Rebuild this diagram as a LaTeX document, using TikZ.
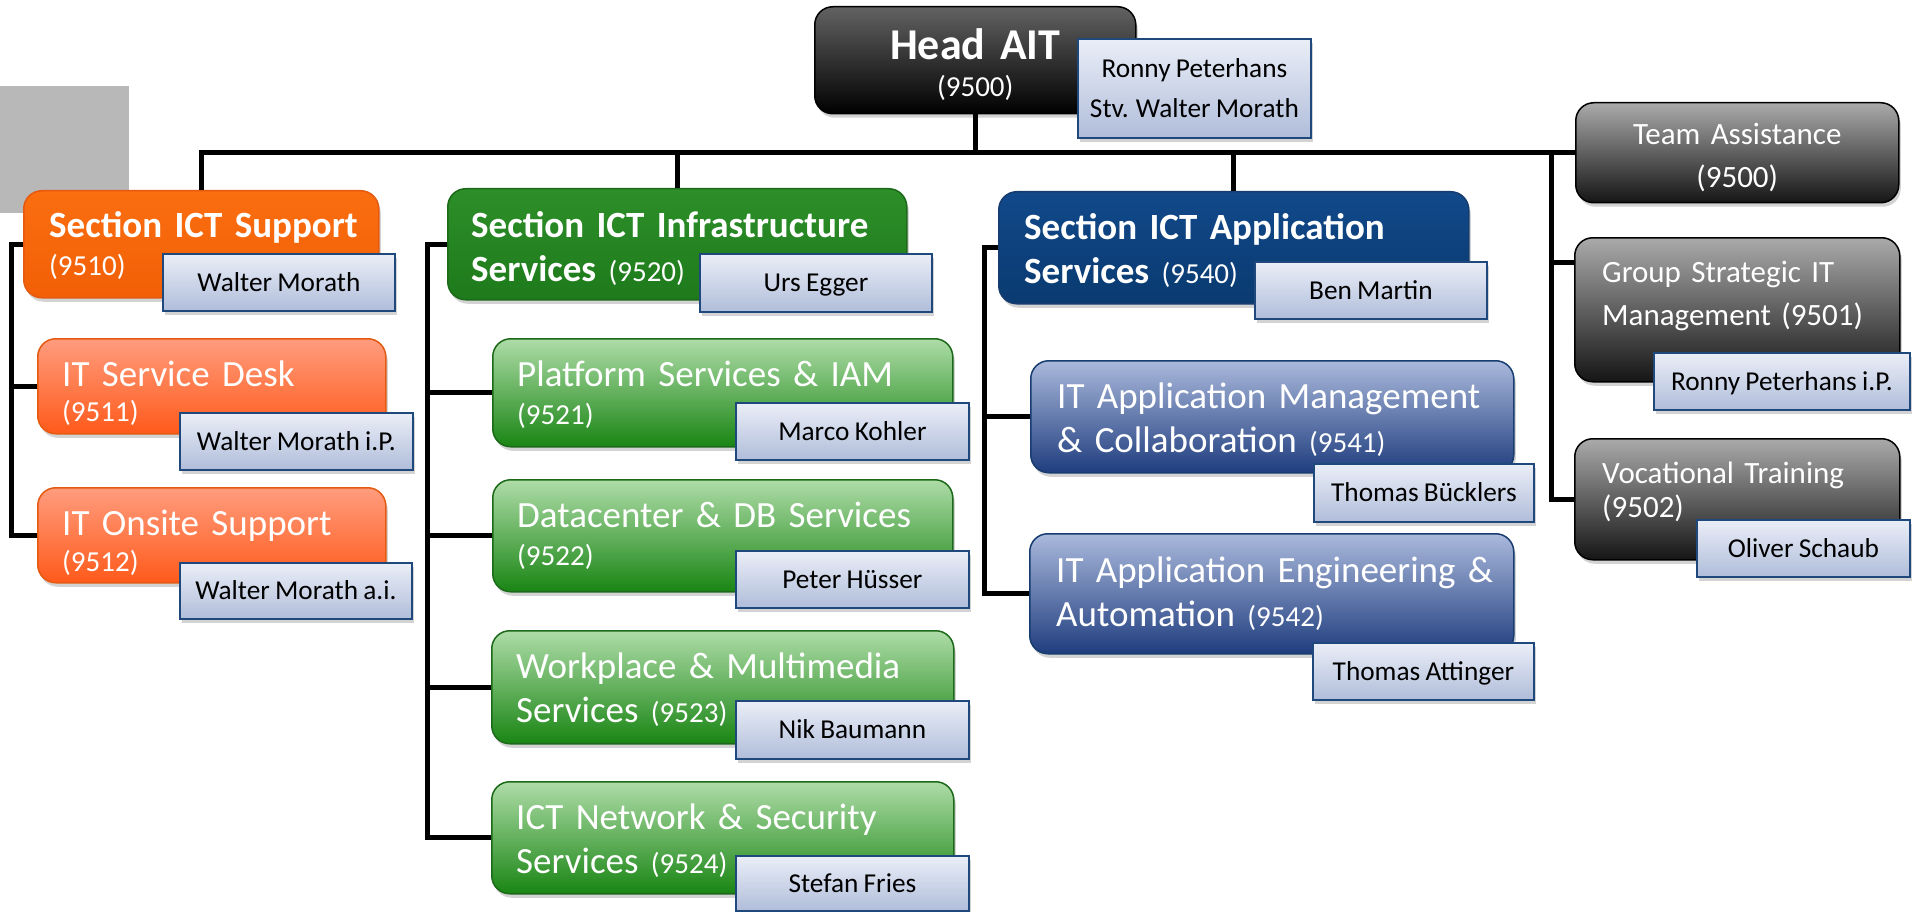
\documentclass[tikz,border=0pt]{standalone}
\usepackage{fontspec}
\setmainfont{Carlito}[WordSpace=0.85]
\usepackage{xcolor}
\usepackage{tikz}
\usetikzlibrary{positioning, calc, shadows}

\definecolor{orgSecTop}{HTML}{FA6E10}
\definecolor{orgSecBot}{HTML}{F25F06}
\definecolor{orgLine}{HTML}{E45A10}
\definecolor{orgTop}{HTML}{FF9C7E}
\definecolor{orgBot}{HTML}{FF5A1A}
\definecolor{grnSecTop}{HTML}{2D8F29}
\definecolor{grnSecBot}{HTML}{1E7A1B}
\definecolor{grnLine}{HTML}{1C6A19}
\definecolor{grnTop}{HTML}{AEDCA8}
\definecolor{grnBot}{HTML}{198513}
\definecolor{bluSecTop}{HTML}{11498A}
\definecolor{bluSecBot}{HTML}{0A3A70}
\definecolor{bluLine}{HTML}{163C70}
\definecolor{bluTop}{HTML}{AAB9DC}
\definecolor{bluBot}{HTML}{1F3D7E}
\definecolor{grayTop}{HTML}{AAAAAA}
\definecolor{grayBot}{HTML}{151515}
\definecolor{headTop}{HTML}{626262}
\definecolor{nameTop}{HTML}{EAEEF7}
\definecolor{nameBot}{HTML}{B0BDDA}
\definecolor{nameLine}{HTML}{1F497D}
\definecolor{patchGray}{HTML}{B8B8B8}

\newcommand{\unitfont}{\fontsize{37}{44}\selectfont}
\newcommand{\codefont}{\fontsize{29}{35}\selectfont}
\newcommand{\namefont}{\fontsize{27.3}{40}\selectfont}
\newcommand{\grayfont}{\fontsize{31}{43}\selectfont}
\newcommand{\headfont}{\fontsize{44}{50}\selectfont}

\begin{document}
\begin{tikzpicture}[x=1pt, y=-1pt,
        link/.style={line width=5pt},
        wh/.style 2 args={minimum width=#1pt, minimum height=#2pt},
        unit/.style={draw, line width=1.5pt, rounded corners=18pt, anchor=north west,
            inner sep=0pt, drop shadow={shadow xshift=2pt, shadow yshift=-4pt, opacity=.35}},
        headbox/.style={unit, draw=black, top color=headTop, middle color=black, bottom color=black},
        graybox/.style={unit, draw=black, top color=grayTop, bottom color=grayBot},
        orgsec/.style={unit, draw=orgLine, top color=orgSecTop, bottom color=orgSecBot},
        orgsub/.style={unit, draw=orgLine, top color=orgTop, bottom color=orgBot},
        grnsec/.style={unit, draw=grnLine, top color=grnSecTop, bottom color=grnSecBot},
        grnsub/.style={unit, draw=grnLine, top color=grnTop, bottom color=grnBot},
        blusec/.style={unit, draw=bluLine, top color=bluSecTop, bottom color=bluSecBot},
        blusub/.style={unit, draw=bluLine, top color=bluTop, bottom color=bluBot},
        utext/.style={inner sep=0pt, anchor=base west, align=left, text width=520pt,
            text=white, font=\unitfont},
        ctext/.style={inner sep=0pt, anchor=base, align=center, text=white},
        who/.style={draw=nameLine, line width=1.8pt, top color=nameTop, bottom color=nameBot,
            anchor=north west, inner sep=0pt, align=center, font=\namefont,
            drop shadow={shadow xshift=2pt, shadow yshift=-4pt, opacity=.35}},
        who1/.style={who, text height=18pt, text depth=0pt}]
    \useasboundingbox (0,0) rectangle (1913,912);

    \fill[patchGray] (0,86) rectangle (129,213);

    % head
    \node[headbox, wh={321}{107}] (head) at (814,6) {};
    \node[ctext, text width=321pt, font=\headfont] (head-t) at ([shift={(0,54)}]head.north)
        {\textbf{Head AIT}\\[-13pt]{\codefont (9500)}};
    \node[who, wh={233}{99}] (head-n) at (1077,38) {Ronny Peterhans\\Stv. Walter Morath};

    % staff units
    \node[graybox, wh={323}{100}] (asst) at (1575,102) {};
    \node[ctext, text width=323pt, font=\grayfont] (asst-t) at ([shift={(0,43)}]asst.north)
        {Team Assistance\\(9500)};

    \node[graybox, wh={325}{144}] (strat) at (1574,237) {};
    \node[utext, font=\grayfont] (strat-t) at ([shift={(28,45)}]strat.north west)
        {Group Strategic IT\\Management (9501)};
    \node[who1, wh={256}{57}] (strat-n) at (1653,352) {Ronny Peterhans i.P.};

    \node[graybox, wh={325}{121}] (voc) at (1574,438) {};
    \node[utext, font=\grayfont] (voc-t) at ([shift={(28,45)}]voc.north west)
        {Vocational Training\\[-9pt](9502)};
    \node[who1, wh={213}{57}] (voc-n) at (1696,519) {Oliver Schaub};

    % section ict support
    \node[orgsec, wh={355}{107}] (sup) at (23,190) {};
    \node[utext] (sup-t) at ([shift={(26,47)}]sup.north west)
        {\textbf{Section ICT Support}\\[-6pt]{\codefont (9510)}};
    \node[who1, wh={232}{57}] (sup-n) at (162,253) {Walter Morath};

    \node[orgsub, wh={348}{95}] (desk) at (37,338) {};
    \node[utext] (desk-t) at ([shift={(25,48)}]desk.north west)
        {IT Service Desk\\[-9pt]{\codefont (9511)}};
    \node[who1, wh={233}{57}] (desk-n) at (179,412) {Walter Morath i.P.};

    \node[orgsub, wh={348}{95}] (onsite) at (37,487) {};
    \node[utext] (onsite-t) at ([shift={(25,48)}]onsite.north west)
        {IT Onsite Support\\[-8pt]{\codefont (9512)}};
    \node[who1, wh={232}{56}] (onsite-n) at (179,562) {Walter Morath a.i.};

    % section ict infrastructure services
    \node[grnsec, wh={459}{111}] (infra) at (447,188) {};
    \node[utext] (infra-t) at ([shift={(24,49)}]infra.north west)
        {\textbf{Section ICT Infrastructure}\\\textbf{Services} {\codefont (9520)}};
    \node[who1, wh={232}{58}] (infra-n) at (699,253) {Urs Egger};

    \node[grnsub, wh={460}{108}] (plat) at (492,338) {};
    \node[utext] (plat-t) at ([shift={(25,48)}]plat.north west)
        {Platform Services \& IAM\\[-6pt]{\codefont (9521)}};
    \node[who1, wh={233}{57}] (plat-n) at (735,402) {Marco Kohler};

    \node[grnsub, wh={460}{112}] (dc) at (492,479) {};
    \node[utext] (dc-t) at ([shift={(25,48)}]dc.north west)
        {Datacenter \& DB Services\\[-6pt]{\codefont (9522)}};
    \node[who1, wh={233}{57}] (dc-n) at (735,550) {Peter Hüsser};

    \node[grnsub, wh={462}{113}] (work) at (491,630) {};
    \node[utext] (work-t) at ([shift={(25,48)}]work.north west)
        {Workplace \& Multimedia\\Services {\codefont (9523)}};
    \node[who1, wh={233}{58}] (work-n) at (735,700) {Nik Baumann};

    \node[grnsub, wh={462}{112}] (net) at (491,781) {};
    \node[utext] (net-t) at ([shift={(25,48)}]net.north west)
        {ICT Network \& Security\\Services {\codefont (9524)}};
    \node[who1, wh={233}{55}] (net-n) at (735,855) {Stefan Fries};

    % section ict application services
    \node[blusec, wh={470}{112}] (app) at (998,191) {};
    \node[utext] (app-t) at ([shift={(26,48)}]app.north west)
        {\textbf{Section ICT Application}\\\textbf{Services} {\codefont (9540)}};
    \node[who1, wh={232}{57}] (app-n) at (1254,261) {Ben Martin};

    \node[blusub, wh={483}{112}] (mgmt) at (1030,360) {};
    \node[utext] (mgmt-t) at ([shift={(27,48)}]mgmt.north west)
        {IT Application Management\\\& Collaboration {\codefont (9541)}};
    \node[who1, wh={220}{58}] (mgmt-n) at (1313,463) {Thomas Bücklers};

    \node[blusub, wh={484}{120}] (eng) at (1029,533) {};
    \node[utext] (eng-t) at ([shift={(27,49)}]eng.north west)
        {IT Application Engineering \&\\Automation {\codefont (9542)}};
    \node[who1, wh={221}{57}] (eng-n) at (1312,642) {Thomas Attinger};

    % lines
    \draw[link] (sup.north) |- (asst.west);
    \draw[link] (head.south) -- (head.south |- asst.west);
    \draw[link] (infra.north) -- (infra.north |- asst.west);
    \draw[link] (app.north) -- (app.north |- asst.west);
    \coordinate (rbus) at ([shift={(-24,0)}]asst.west);
    \coordinate (strat-in) at ([shift={(0,25)}]strat.north west);
    \draw[link] (rbus) |- (voc.west) (rbus |- strat-in) -- (strat-in);

    \draw[link] (sup.west) -- ++(-12,0) coordinate (sup-bus) |- (onsite.west)
        (sup-bus |- desk.west) -- (desk.west);
    \draw[link] (infra.west) -- ++(-20,0) coordinate (infra-bus) |- (net.west)
        (infra-bus |- plat.west) -- (plat.west)
        (infra-bus |- dc.west) -- (dc.west)
        (infra-bus |- work.west) -- (work.west);
    \draw[link] (app.west) -- ++(-14,0) coordinate (app-bus) |- (eng.west)
        (app-bus |- mgmt.west) -- (mgmt.west);
\end{tikzpicture}
\end{document}
